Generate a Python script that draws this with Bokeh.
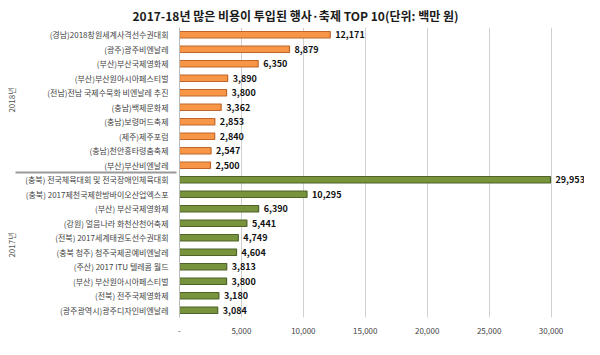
from bokeh.plotting import figure
from bokeh.models import FactorRange, ColumnDataSource, FixedTicker, Range1d
from bokeh.core.properties import value
from bokeh.embed import file_html
from bokeh.resources import INLINE

events_2018 = ["(경남)2018창원세계사격선수권대회", "(광주)광주비엔날레", "(부산)부산국제영화제",
               "(부산)부산원아시아페스티벌", "(전남)전남 국제수묵화 비엔날레 추진", "(충남)백제문화제",
               "(충남)보령머드축제", "(제주)제주포럼", "(충남)천안흥타령춤축제", "(부산)부산비엔날레"]
costs_2018 = [12171, 8879, 6350, 3890, 3800, 3362, 2853, 2840, 2547, 2500]
events_2017 = ["(충북) 전국체육대회 및 전국장애인체육대회", "(충북) 2017제천국제한방바이오산업엑스포",
               "(부산) 부산국제영화제", "(강원) 얼음나라 화천산천어축제", "(전북) 2017세계태권도선수권대회",
               "(충북 청주) 청주국제공예비엔날레", "(주산) 2017 ITU 텔레콤 월드", "(부산) 부산원아시아페스티벌",
               "(전북) 전주국제영화제", "(광주광역시)광주디자인비엔날레"]
costs_2017 = [29953, 10295, 6390, 5441, 4749, 4604, 3813, 3800, 3180, 3084]
group_names = ["2018년", "2017년"]
x_ticks = [0, 5000, 10000, 15000, 20000, 25000, 30000]

FONT = "Noto Sans CJK KR"
colors = {"2018년": ("#F79646", "#C0662A"), "2017년": ("#77933C", "#4F6228")}

factors, vals, fills, lines, texts = [], [], [], [], []
for g, evs, cs in [(group_names[1], events_2017, costs_2017), (group_names[0], events_2018, costs_2018)]:
    for e, c in reversed(list(zip(evs, cs))):
        factors.append((g, e))
        vals.append(c)
        fills.append(colors[g][0])
        lines.append(colors[g][1])
        texts.append(f"{c:,}")

src = ColumnDataSource(dict(y=factors, v=vals, fill=fills, line=lines, t=texts))

p = figure(width=584, height=336, output_backend="svg", toolbar_location=None,
           y_range=FactorRange(*factors, group_padding=0, factor_padding=0, range_padding=0),
           x_range=Range1d(0, 32700),
           min_border_left=179, min_border_right=0, min_border_top=0, min_border_bottom=0)

p.title.text = "2017-18년 많은 비용이 투입된 행사·축제 TOP 10(단위: 백만 원)"
p.title.text_font = FONT
p.title.text_font_size = "12px"
p.title.text_font_style = "bold"
p.title.text_color = "#1a1a1a"
p.title.align = "left"
p.title.offset = -47
p.title.standoff = 8

p.hbar(y="y", right="v", left=0, height=0.45, fill_color="fill", line_color="line",
       line_width=1.2, source=src)
p.text(x="v", y="y", text="t", source=src, x_offset=5, text_baseline="middle",
       text_font=value(FONT), text_font_size="9px", text_font_style="bold", text_color="#111111")

p.xaxis.ticker = FixedTicker(ticks=x_ticks)
p.xaxis.major_label_overrides = {0: "-", 5000: "5,000", 10000: "10,000", 15000: "15,000",
                                 20000: "20,000", 25000: "25,000", 30000: "30,000"}
p.xaxis.major_label_text_font = FONT
p.xaxis.major_label_text_font_size = "8px"
p.xaxis.major_label_text_color = "#444444"
p.xaxis.major_tick_line_color = None
p.xaxis.minor_tick_line_color = None
p.xaxis.axis_line_color = None
p.xaxis.major_label_standoff = 4

p.yaxis.major_label_text_font = FONT
p.yaxis.major_label_text_font_size = "8px"
p.yaxis.major_label_text_color = "#444444"
p.yaxis.group_text_font = FONT
p.yaxis.group_text_font_size = "8px"
p.yaxis.group_text_font_style = "normal"
p.yaxis.group_text_color = "#555555"
p.yaxis.group_label_orientation = "vertical"
p.yaxis.separator_line_color = "#999999"
p.yaxis.axis_line_color = "#bbbbbb"
p.yaxis.major_tick_line_color = None
p.yaxis.minor_tick_line_color = None

p.ygrid.grid_line_color = None
p.xgrid.grid_line_color = "#d0d0d0"
p.xgrid.ticker = FixedTicker(ticks=x_ticks)
p.outline_line_color = None

open("out.html", "w").write(file_html(p, INLINE))
